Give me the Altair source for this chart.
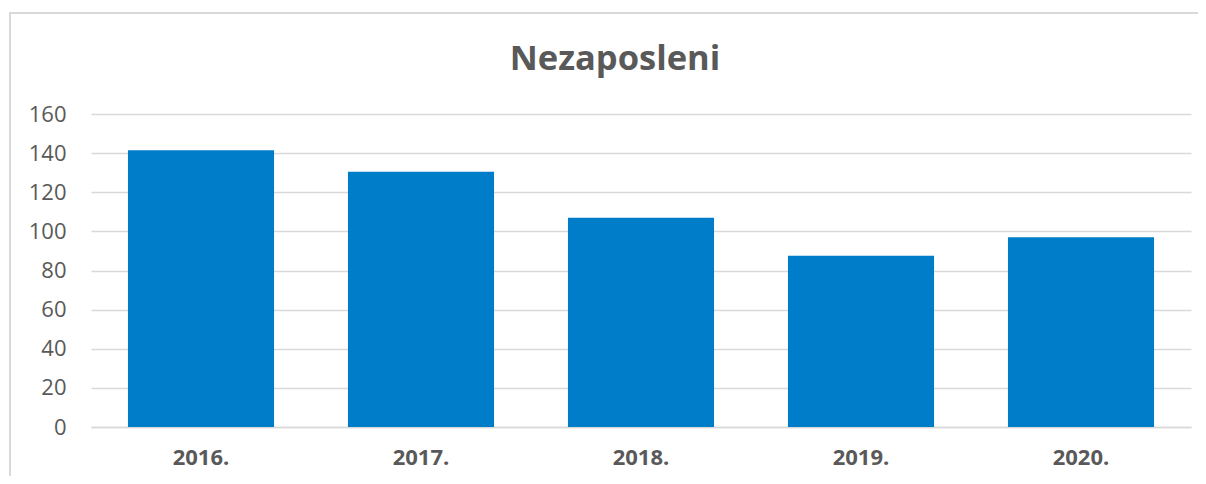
import altair as alt
import pandas as pd

years = ["2016.", "2017.", "2018.", "2019.", "2020."]
values = [141.5, 130.5, 107, 87.5, 97]

df = pd.DataFrame({"year": years, "value": values})

FONT = "Open Sans"
GRAY = "#595959"
GRID = "#d9d9d9"

bars = alt.Chart(df).mark_bar(color="#007dc8").encode(
    x=alt.X("year:N", sort=years, title=None,
            scale=alt.Scale(paddingInner=0.336, paddingOuter=0.168),
            axis=alt.Axis(labelAngle=0, labelFont=FONT, labelFontSize=22,
                          labelFontWeight="bold", labelColor=GRAY,
                          labelPadding=20, ticks=False, domain=True,
                          domainColor=GRID, domainWidth=1.5)),
    y=alt.Y("value:Q", title=None,
            scale=alt.Scale(domain=[0, 160], nice=False),
            axis=alt.Axis(values=[0, 20, 40, 60, 80, 100, 120, 140, 160],
                          labelFont=FONT, labelFontSize=22, labelColor=GRAY,
                          labelPadding=25, ticks=False, domain=False,
                          grid=True, gridColor=GRID, gridWidth=1.5)),
)

border = alt.Chart(pd.DataFrame({"a": [0]})).mark_rect(
    fill=None, stroke=GRID, strokeWidth=2, clip=False
).encode(
    x=alt.value(-81), x2=alt.value(1200),
    y=alt.value(-101), y2=alt.value(400),
)

chart = alt.layer(border, bars).properties(
    width=1100, height=313,
    title=alt.TitleParams("Nezaposleni", font=FONT, fontSize=34.5,
                          fontWeight="bold", color=GRAY, anchor="middle",
                          frame="group", baseline="alphabetic", offset=-92,
                          dx=-26),
    padding={"left": 83, "top": 106, "right": 7, "bottom": 49},
    autosize=alt.AutoSizeParams(type="none"),
).configure_view(stroke=None)

chart.save("out.html", embed_options={"renderer": "svg", "actions": False})
